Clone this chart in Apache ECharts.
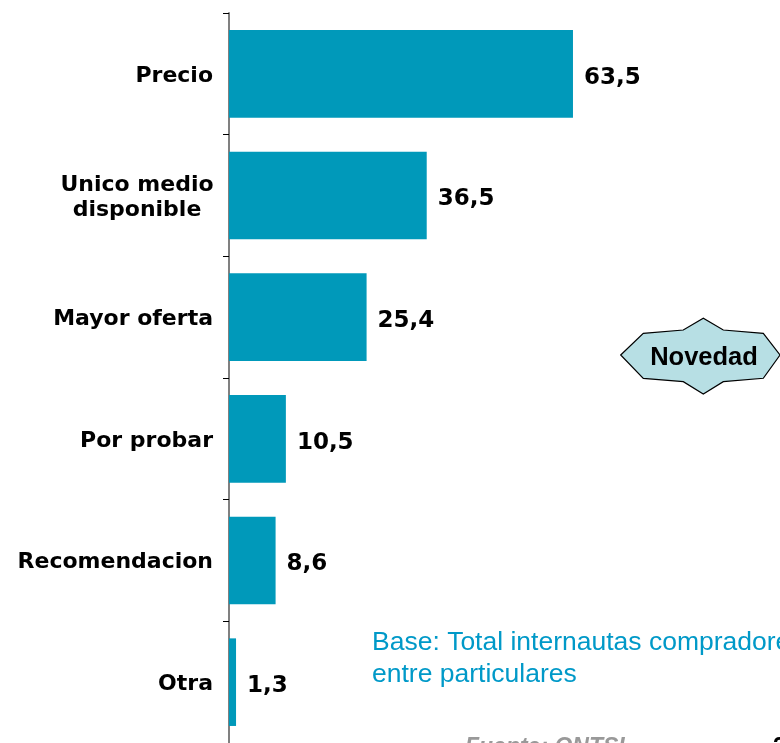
<!DOCTYPE html>
<html lang="es">
<head>
    <meta charset="utf-8">
    <script src="https://cdn.jsdelivr.net/npm/echarts@6/dist/echarts.min.js"></script>
    <style>
        html, body { margin: 0; padding: 0; background: #fff; }
        #chart { width: 780px; height: 743px; }
    </style>
</head>
<body>
<div id="chart"></div>
<script>
    // datos
    var categorias = ['Precio', 'Unico medio\ndisponible', 'Mayor oferta', 'Por probar', 'Recomendacion', 'Otra'];
    var valores = [63.5, 36.5, 25.4, 10.5, 8.6, 1.3];
    var textoBase = ['Base: Total internautas compradores', 'entre particulares'];
    var textoFuente = 'Fuente: ONTSI';

    var chart = echarts.init(document.getElementById('chart'));

    var estrella = [
        [620.7, 355], [643.3, 333.3], [683.3, 330], [703.3, 318.3], [723.3, 330], [763.3, 333.3],
        [780, 355], [763.3, 378.3], [723.3, 381.7], [703.3, 394], [683.3, 381.7], [643.3, 378.3]
    ];

    var option = {
        animation: false,
        grid: {
            left: 229,
            top: 13,
            width: 541.7,
            height: 732
        },
        xAxis: {
            type: 'value',
            min: 0,
            max: 100,
            show: false
        },
        yAxis: {
            type: 'category',
            inverse: true,
            data: categorias,
            axisLine: { show: true, lineStyle: { color: '#808080', width: 2 } },
            axisTick: { show: true, length: 6, lineStyle: { color: '#000', width: 1 } },
            splitLine: { show: false },
            axisLabel: {
                margin: 16,
                color: '#000',
                fontFamily: 'DejaVu Sans',
                fontWeight: 'bold',
                fontSize: 22,
                lineHeight: 25,
                padding: [4, 0, 0, 0],
                formatter: function (v) {
                    if (v.indexOf('\n') >= 0) {
                        return v.split('\n').map(function (s) { return '{c|' + s + '}'; }).join('\n');
                    }
                    return v;
                },
                rich: {
                    c: {
                        width: 152,
                        align: 'center',
                        color: '#000',
                        fontFamily: 'DejaVu Sans',
                        fontWeight: 'bold',
                        fontSize: 22,
                        lineHeight: 25
                    }
                }
            }
        },
        series: [{
            type: 'bar',
            data: valores,
            barCategoryGap: '28%',
            itemStyle: { color: '#0099BA' },
            label: {
                show: true,
                position: 'right',
                distance: 11,
                offset: [0, 4],
                color: '#000',
                fontFamily: 'DejaVu Sans',
                fontWeight: 'bold',
                fontSize: 23,
                formatter: function (p) { return String(p.value).replace('.', ','); }
            }
        }],
        graphic: [
            {
                type: 'polygon',
                shape: { points: estrella },
                style: { fill: '#B7DFE4', stroke: '#000', lineWidth: 1.2 }
            },
            {
                type: 'text',
                x: 704, y: 358,
                style: {
                    text: 'Novedad',
                    fill: '#000',
                    font: 'bold 25.5px "Liberation Sans", Arial, sans-serif',
                    textAlign: 'center',
                    textVerticalAlign: 'middle'
                }
            },
            {
                type: 'text',
                x: 372, y: 627,
                style: {
                    text: textoBase.join('\n'),
                    fill: '#0099C8',
                    font: '26.5px "Liberation Sans", Arial, sans-serif',
                    lineHeight: 32
                }
            },
            {
                type: 'text',
                x: 465, y: 736,
                style: {
                    text: textoFuente,
                    fill: '#999999',
                    font: 'italic bold 23px "Liberation Sans", Arial, sans-serif'
                }
            },
            {
                type: 'text',
                x: 773, y: 736,
                style: {
                    text: '2',
                    fill: '#000',
                    font: 'bold 23px "Liberation Sans", Arial, sans-serif'
                }
            }
        ]
    };

    chart.setOption(option);
</script>
</body>
</html>
